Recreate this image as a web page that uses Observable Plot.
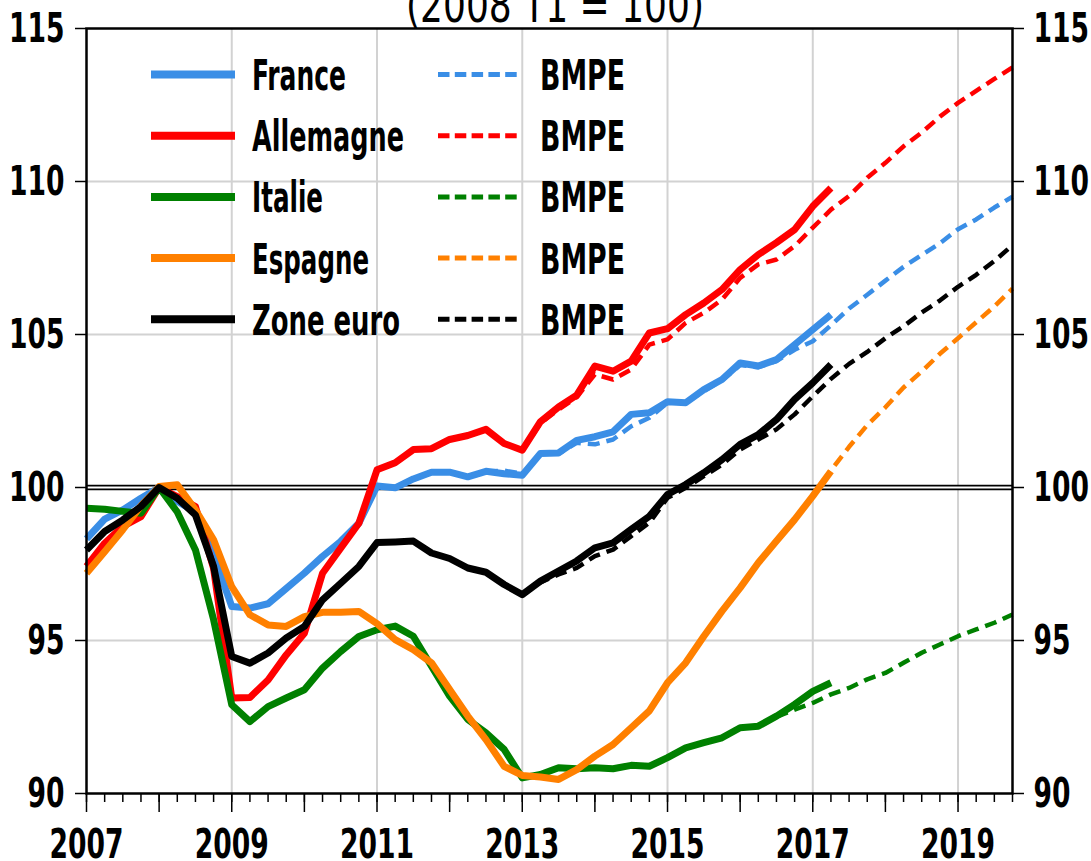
<!DOCTYPE html>
<html>
<head>
<meta charset="utf-8">
<script src="https://cdn.jsdelivr.net/npm/d3@7"></script>
<script src="https://cdn.jsdelivr.net/npm/@observablehq/plot@0.6"></script>
<style>
  html, body { margin: 0; padding: 0; background: #fff; }
  #wrap { position: relative; width: 1091px; height: 861px; overflow: hidden; }
  #wrap > svg { position: absolute; left: 0; top: 0; }
</style>
</head>
<body>
<div id="wrap"></div>
<script>
const FONT = '"Liberation Sans Narrow", "Arial Narrow", "DejaVu Sans Condensed", "DejaVu Sans", sans-serif';

// ---- categories ----
const quarters = [];
for (let y = 2007; y <= 2019; y++) for (let q = 1; q <= 4; q++) quarters.push(`${y}T${q}`);
const yearTicks = d3.range(2007, 2020);
const yTicks = [90, 95, 100, 105, 110, 115];
const gridYears = [2009, 2011, 2013, 2015, 2017, 2019];
const gridValues = [95, 105, 110];
const title = "(2008 T1 = 100)";

// ---- observed series (2007T1 .. 2017T2) ----
const france = [98.32, 98.97, 99.27, 99.65, 100.0, 99.55, 99.2, 97.8, 96.11, 96.06, 96.2, 96.7, 97.2, 97.75, 98.24, 98.83,
  100.05, 99.99, 100.28, 100.5, 100.5, 100.35, 100.53, 100.45, 100.4, 101.11, 101.13, 101.54, 101.66, 101.82, 102.39, 102.44,
  102.8, 102.77, 103.2, 103.53, 104.07, 103.97, 104.18, 104.67, 105.16, 105.65];
const allemagne = [97.42, 98.18, 98.73, 99.05, 100.0, 99.7, 99.38, 97.35, 93.12, 93.14, 93.71, 94.53, 95.24, 97.2, 98.02, 98.83,
  100.58, 100.81, 101.24, 101.27, 101.57, 101.7, 101.9, 101.44, 101.22, 102.15, 102.63, 103.02, 103.97, 103.8, 104.13, 105.05,
  105.19, 105.65, 106.03, 106.47, 107.12, 107.61, 108.0, 108.43, 109.19, 109.79];
const italie = [99.32, 99.29, 99.22, 99.16, 100.0, 99.2, 97.96, 95.68, 92.9, 92.35, 92.84, 93.12, 93.39, 94.1, 94.64, 95.13,
  95.35, 95.47, 95.14, 94.16, 93.18, 92.42, 91.98, 91.44, 90.51, 90.62, 90.84, 90.81, 90.84, 90.81, 90.92, 90.89,
  91.17, 91.49, 91.66, 91.82, 92.15, 92.2, 92.53, 92.91, 93.34, 93.62];
const espagne = [97.2, 97.9, 98.62, 99.4, 100.03, 100.09, 99.27, 98.29, 96.76, 95.84, 95.51, 95.46, 95.78, 95.92, 95.92, 95.95,
  95.55, 95.03, 94.7, 94.27, 93.4, 92.53, 91.76, 90.89, 90.59, 90.54, 90.46, 90.78, 91.22, 91.6, 92.15, 92.7,
  93.62, 94.27, 95.14, 95.96, 96.72, 97.54, 98.25, 98.95, 99.72, 100.53];
const zoneEuro = [97.96, 98.56, 98.94, 99.38, 100.0, 99.65, 99.1, 97.42, 94.48, 94.26, 94.59, 95.08, 95.46, 96.33, 96.87, 97.42,
  98.2, 98.22, 98.25, 97.86, 97.68, 97.37, 97.23, 96.83, 96.5, 96.94, 97.27, 97.6, 98.03, 98.19, 98.63, 99.06,
  99.77, 100.1, 100.48, 100.91, 101.41, 101.73, 102.22, 102.88, 103.42, 104.02];

// ---- BMPE projections (first quarter given separately, up to 2019T4) ----
const franceBMPEStart = "2012T3";
const franceBMPE = [100.53, 100.55, 100.45, 101.1, 101.1, 101.46, 101.41, 101.57, 102.0, 102.28, 102.77, 102.77, 103.15, 103.5,
  104.0, 103.93, 104.13, 104.5, 104.78, 105.3, 105.85, 106.3, 106.76, 107.21, 107.6, 107.98, 108.44, 108.76, 109.15, 109.5];
const allemagneBMPEStart = "2013T1";
const allemagneBMPE = [101.2, 102.1, 102.55, 102.95, 103.7, 103.53, 103.86, 104.67, 104.84, 105.38, 105.71, 106.14, 106.85,
  107.29, 107.45, 107.89, 108.49, 109.08, 109.53, 110.12, 110.61, 111.15, 111.6, 112.12, 112.57, 112.96, 113.35, 113.73];
const italieBMPEStart = "2016T3";
const italieBMPE = [92.5, 92.74, 92.96, 93.24, 93.45, 93.73, 93.94, 94.27, 94.6, 94.87, 95.14, 95.36, 95.58, 95.85];
const espagneBMPEStart = "2017T1";
const espagneBMPE = [99.7, 100.56, 101.33, 102.04, 102.62, 103.27, 103.79, 104.37, 104.88, 105.4, 105.92, 106.5];
const zoneEuroBMPEStart = "2013T1";
const zoneEuroBMPE = [96.5, 96.9, 97.16, 97.37, 97.76, 97.97, 98.41, 98.85, 99.66, 99.99, 100.37, 100.75, 101.24, 101.57,
  101.9, 102.39, 102.98, 103.55, 104.04, 104.43, 104.88, 105.27, 105.72, 106.11, 106.56, 106.95, 107.4, 107.92];

const seriesNames = ["France", "Allemagne", "Italie", "Espagne", "Zone euro"];
const bmpeLabel = "BMPE";

// ---- styles (kept apart from data) ----
const colors = { "France": "#3a8ee6", "Allemagne": "#ff0000", "Italie": "#008000", "Espagne": "#ff8000", "Zone euro": "#000000" };

// ---- tidy tables ----
const pos = (label) => +label.slice(0, 4) + (+label.slice(5) - 1) / 4;
const observed = [["France", france], ["Allemagne", allemagne], ["Italie", italie], ["Espagne", espagne], ["Zone euro", zoneEuro]];
const projected = [["France", franceBMPEStart, franceBMPE], ["Allemagne", allemagneBMPEStart, allemagneBMPE],
  ["Italie", italieBMPEStart, italieBMPE], ["Espagne", espagneBMPEStart, espagneBMPE], ["Zone euro", zoneEuroBMPEStart, zoneEuroBMPE]];

const obsRows = {}, bmpeRows = {};
observed.forEach(([name, vals]) => { obsRows[name] = vals.map((v, i) => ({ name, x: pos(quarters[i]), v })); });
projected.forEach(([name, start, vals]) => {
  const s = quarters.indexOf(start);
  bmpeRows[name] = vals.map((v, k) => ({ name, x: pos(quarters[s + k]), v }));
});

const dashedMarks = seriesNames.map(n => Plot.line(bmpeRows[n], {
  x: "x", y: "v", stroke: colors[n], strokeWidth: 4.5, strokeDasharray: "12,7", strokeLinecap: "butt", strokeLinejoin: "round"
}));
const solidMarks = seriesNames.map(n => Plot.line(obsRows[n], {
  x: "x", y: "v", stroke: colors[n], strokeWidth: 7, strokeLinecap: "butt", strokeLinejoin: "round"
}));

const chart = Plot.plot({
  width: 1091,
  height: 861,
  marginLeft: 86,
  marginRight: 79,
  marginTop: 28,
  marginBottom: 68,
  style: { fontFamily: FONT, background: "white", color: "black" },
  x: { domain: [2007, 2019.75] },
  y: { domain: [90, 115] },
  marks: [
    Plot.gridX(gridYears, { stroke: "#d2d2d2", strokeOpacity: 1, strokeWidth: 2 }),
    Plot.gridY(gridValues, { stroke: "#d2d2d2", strokeOpacity: 1, strokeWidth: 2 }),
    Plot.ruleY([100], { stroke: "black", strokeWidth: 5.5 }),
    Plot.ruleY([100], { stroke: "white", strokeWidth: 2 }),
    ...dashedMarks,
    ...solidMarks,
    Plot.frame({ stroke: "black", strokeWidth: 2.5 }),
    Plot.axisY(yTicks, { anchor: "left", tickSize: 11, tickPadding: 11, fontSize: 41, fontWeight: "bold", label: null, strokeWidth: 1.5 }),
    Plot.axisY(yTicks, { anchor: "right", tickSize: 11, tickPadding: 10, fontSize: 41, fontWeight: "bold", label: null, strokeWidth: 1.5 }),
    Plot.axisX(quarters.map(pos), { anchor: "bottom", tickSize: 9, tickFormat: () => "", label: null, strokeWidth: 1.5 }),
    Plot.axisX(yearTicks, { anchor: "bottom", tickSize: 19, tickPadding: 16, tickFormat: d => (d % 2 ? String(d) : ""),
      fontSize: 41, fontWeight: "bold", label: null, strokeWidth: 1.5 })
  ]
});

const wrap = document.getElementById("wrap");
wrap.appendChild(chart);

// condense the axis tick labels (the source font is a narrow bold face)
d3.select(chart).selectAll("g[aria-label$='tick label'] text").each(function () {
  const s = this.textContent;
  if (s) {
    this.setAttribute("textLength", s.length * 18.5);
    this.setAttribute("lengthAdjust", "spacingAndGlyphs");
  }
});

// ---- legend + title overlay ----
const NS = "http://www.w3.org/2000/svg";
const ov = document.createElementNS(NS, "svg");
ov.setAttribute("width", 1091);
ov.setAttribute("height", 861);
ov.style.pointerEvents = "none";
ov.style.fontFamily = FONT;
wrap.appendChild(ov);
const el = (tag, attrs, text) => {
  const e = document.createElementNS(NS, tag);
  for (const k in attrs) e.setAttribute(k, attrs[k]);
  if (text != null) e.textContent = text;
  ov.appendChild(e);
  return e;
};
el("text", { x: 555, y: 21.5, "text-anchor": "middle", "font-size": 48, "font-weight": "normal",
  textLength: 298, lengthAdjust: "spacingAndGlyphs" }, title);

const legendWidths = { "France": 94, "Allemagne": 152, "Italie": 71, "Espagne": 117, "Zone euro": 148 };
seriesNames.forEach((n, k) => {
  const y = 74.5 + k * 61.2;
  el("line", { x1: 151, x2: 235, y1: y, y2: y, stroke: colors[n], "stroke-width": 8 });
  el("text", { x: 252, y: y, dy: "0.36em", "font-size": 43, "font-weight": "bold",
    textLength: legendWidths[n], lengthAdjust: "spacingAndGlyphs" }, n);
  el("line", { x1: 438, x2: 519, y1: y, y2: y, stroke: colors[n], "stroke-width": 5, "stroke-dasharray": "11.5,5.3" });
  el("text", { x: 540, y: y, dy: "0.36em", "font-size": 43, "font-weight": "bold",
    textLength: 85, lengthAdjust: "spacingAndGlyphs" }, bmpeLabel);
});
</script>
</body>
</html>
